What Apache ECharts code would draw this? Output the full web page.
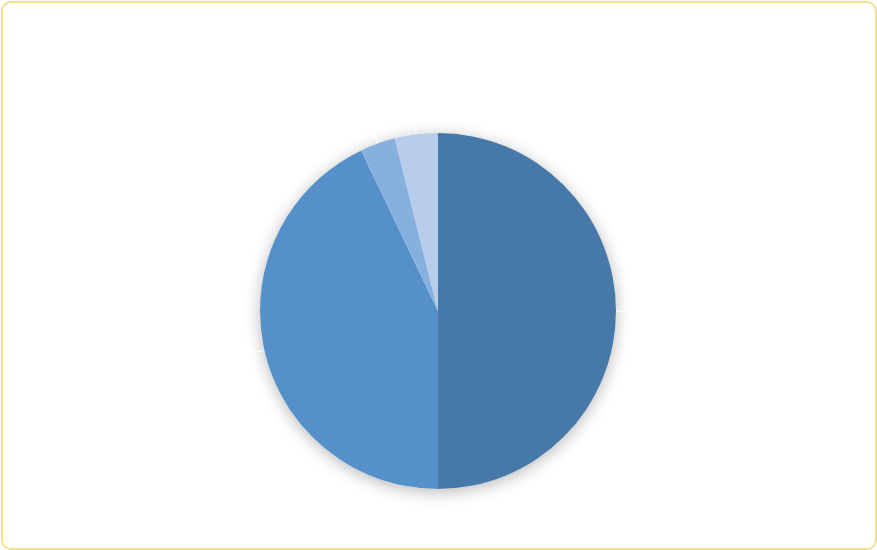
<!DOCTYPE html>
<html><head><meta charset="utf-8">
<script src="https://cdn.jsdelivr.net/npm/echarts@6/dist/echarts.min.js"></script>
<style>
html,body{margin:0;padding:0;background:#fff;}
#frame{position:absolute;left:1px;top:1px;width:872px;height:545px;border:2px solid #f3e08c;border-radius:10px;box-sizing:content-box;}
#c{position:absolute;left:0;top:0;width:877px;height:550px;}
</style></head>
<body>
<div id="frame"></div>
<div id="c"></div>
<script>
const categories = ['A', 'B', 'C', 'D'];
const values = [50.0, 42.9, 3.2, 3.9];
const colors = ['#4679a8', '#5591c8', '#86b0de', '#b8cde9'];

const chart = echarts.init(document.getElementById('c'));
chart.setOption({
  animation: false,
  series: [{
    type: 'pie',
    silent: true,
    z: 1,
    center: [438, 311],
    radius: 178,
    data: [{name: 'shadow', value: 1, itemStyle: {color: '#ffffff', shadowBlur: 16, shadowColor: 'rgba(0,0,0,0.28)', shadowOffsetY: 3}}],
    label: {show: false},
    labelLine: {show: false}
  }, {
    type: 'pie',
    z: 2,
    center: [438, 311],
    radius: 178,
    startAngle: 90,
    clockwise: true,
    data: categories.map((n, i) => ({name: n, value: values[i], itemStyle: {color: colors[i]}})),
    label: {show: true, color: 'rgba(255,255,255,0)', formatter: ' ', fontSize: 1},
    labelLine: {show: true, length: 8, length2: 8, lineStyle: {color: '#ffffff', width: 1}}
  }]
});
</script>
</body></html>
